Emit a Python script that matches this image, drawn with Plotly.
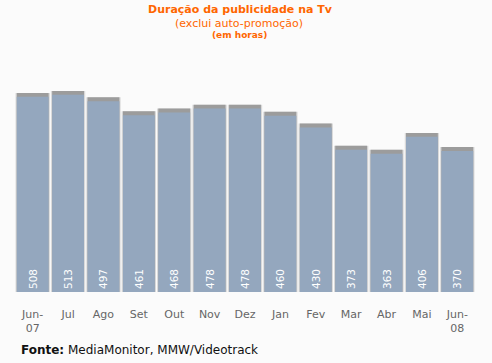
import plotly.graph_objects as go

categories = ["Jun-<br>07", "Jul", "Ago", "Set", "Out", "Nov", "Dez", "Jan", "Fev", "Mar", "Abr", "Mai", "Jun-<br>08"]
values = [508, 513, 497, 461, 468, 478, 478, 460, 430, 373, 363, 406, 370]

W, H = 492, 363
ML, MR, MT, MB = 15, 17, 40, 71
plot_w = W - ML - MR
plot_h = H - MT - MB

def px(x):
    return (x - ML) / plot_w

def py(y):
    return (H - MB - y) / plot_h

cap = 10
fig = go.Figure()
fig.add_trace(go.Bar(x=categories, y=values, width=0.97, marker=dict(color="#d9d9d9", line=dict(width=0)),
                     hoverinfo="skip"))
fig.add_trace(go.Bar(x=categories, y=values, width=0.9, marker=dict(color="#9c9c9c", line=dict(width=0)),
                     hoverinfo="skip"))
fig.add_trace(go.Bar(x=categories, y=[v - cap for v in values], width=0.9,
                     marker=dict(color="#94a7be", line=dict(width=0)),
                     text=[str(v) for v in values], textposition="inside", insidetextanchor="start",
                     textangle=-90, textfont=dict(color="white", size=10.5, family="DejaVu Sans"),
                     constraintext="none"))

fig.update_layout(
    width=W, height=H, barmode="overlay", showlegend=False,
    paper_bgcolor="#fbfbfb", plot_bgcolor="#fbfbfb",
    margin=dict(l=ML, r=MR, t=MT, b=MB),
    font=dict(family="DejaVu Sans", size=11, color="#666666"),
    xaxis=dict(showgrid=False, zeroline=False, showline=False, ticks="", ticklabelstandoff=14,
               tickfont=dict(size=11, color="#666666")),
    yaxis=dict(visible=False, range=[0, 643]),
    annotations=[
        dict(text="<b>Duração da publicidade na Tv</b>", x=px(240), y=py(10), xref="paper", yref="paper",
             yanchor="middle", showarrow=False, font=dict(size=11, color="#ff6600")),
        dict(text="(exclui auto-promoção)", x=px(239), y=py(23), xref="paper", yref="paper",
             yanchor="middle", showarrow=False, font=dict(size=11, color="#ff6600")),
        dict(text="<b>(em horas)</b>", x=px(239), y=py(35), xref="paper", yref="paper",
             yanchor="middle", showarrow=False, font=dict(size=9, color="#ff6600")),
        dict(text="<b>Fonte:</b> MediaMonitor, MMW/Videotrack", x=px(19), y=py(350), xref="paper", yref="paper",
             xanchor="left", yanchor="middle", showarrow=False, font=dict(size=12, color="#111111")),
    ],
)
fig.write_html("out.html", config={"displayModeBar": False},
               post_script="document.body.style.margin='0';document.body.style.background='#fbfbfb';")
